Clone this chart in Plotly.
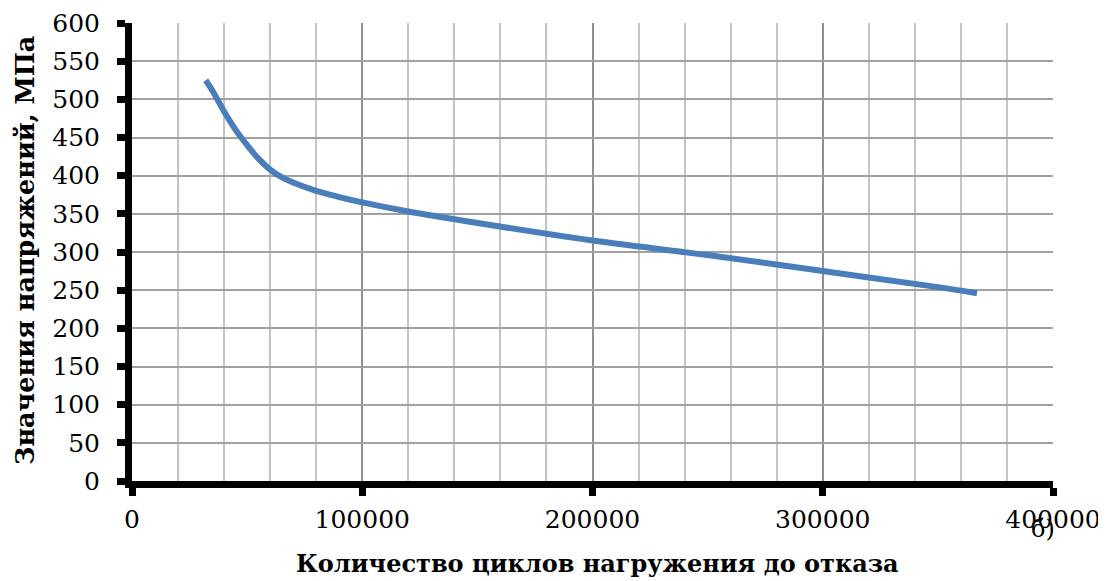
import plotly.graph_objects as go

cycles = [32000, 35000, 40000, 45000, 50000, 55000, 60000, 65000, 70000, 80000, 90000,
          100000, 120000, 150000, 200000, 250000, 300000, 350000, 367000]
stress = [525, 511, 484, 460, 440, 422, 408, 398, 391, 380, 372,
          365, 353, 338, 315, 296, 275, 254, 246]

x_title = "Количество циклов нагружения до отказа"
y_title = "Значения напряжений, МПа"
panel_label = "б)"

# page body adds an 8px offset; figure sized to fit the window
OFF = 8
W, H = 1098, 573
L, T = 132 - OFF, 23 - OFF
R = W - (1053 - OFF)
B = H - (481 - OFF)
PW, PH = W - L - R, H - T - B

def px(xs):
    return (xs - OFF - L) / PW

def py(ys):
    return (H - B - (ys - OFF)) / PH

fig = go.Figure()
fig.add_trace(go.Scatter(x=cycles, y=stress, mode="lines",
                         line=dict(color="#4A7EBB", width=6, shape="spline", smoothing=1.0),
                         showlegend=False, hoverinfo="skip"))

tick_font = dict(family="DejaVu Serif", size=25, color="#000")
fig.update_layout(
    width=W, height=H,
    margin=dict(l=L, r=R, t=T, b=B),
    paper_bgcolor="white", plot_bgcolor="white",
    font=tick_font,
    xaxis=dict(range=[0, 400000], dtick=100000, tick0=0, showgrid=True,
               gridcolor="#8f8f8f", gridwidth=2,
               minor=dict(dtick=20000, showgrid=True, gridcolor="#c4c4c4", gridwidth=2),
               showline=True, linecolor="#000", linewidth=7,
               ticks="outside", ticklen=8, tickwidth=7, tickcolor="#000",
               ticklabelstandoff=2, tickformat="d", zeroline=False, automargin=False),
    yaxis=dict(range=[0, 600], dtick=50, tick0=0, showgrid=True,
               gridcolor="#a0a0a0", gridwidth=2,
               showline=True, linecolor="#000", linewidth=7,
               ticks="outside", ticklen=8, tickwidth=7, tickcolor="#000",
               ticklabelposition="outside", ticklabelstandoff=12,
               zeroline=False, automargin=False),
)
fig.add_annotation(text=x_title, xref="paper", yref="paper", x=px(597), y=py(563),
                   xanchor="center", yanchor="middle", showarrow=False,
                   font=dict(family="DejaVu Serif", size=24, color="#000", weight="bold"))
fig.add_annotation(text=y_title, xref="paper", yref="paper", x=px(25), y=py(251),
                   xanchor="center", yanchor="middle", showarrow=False, textangle=-90,
                   font=dict(family="DejaVu Serif", size=25.5, color="#000", weight="bold"))
fig.add_annotation(text=panel_label, xref="paper", yref="paper", x=px(1043), y=py(529),
                   xanchor="center", yanchor="middle", showarrow=False,
                   font=dict(family="DejaVu Serif", size=24, color="#000"))
fig.write_html("out.html")
